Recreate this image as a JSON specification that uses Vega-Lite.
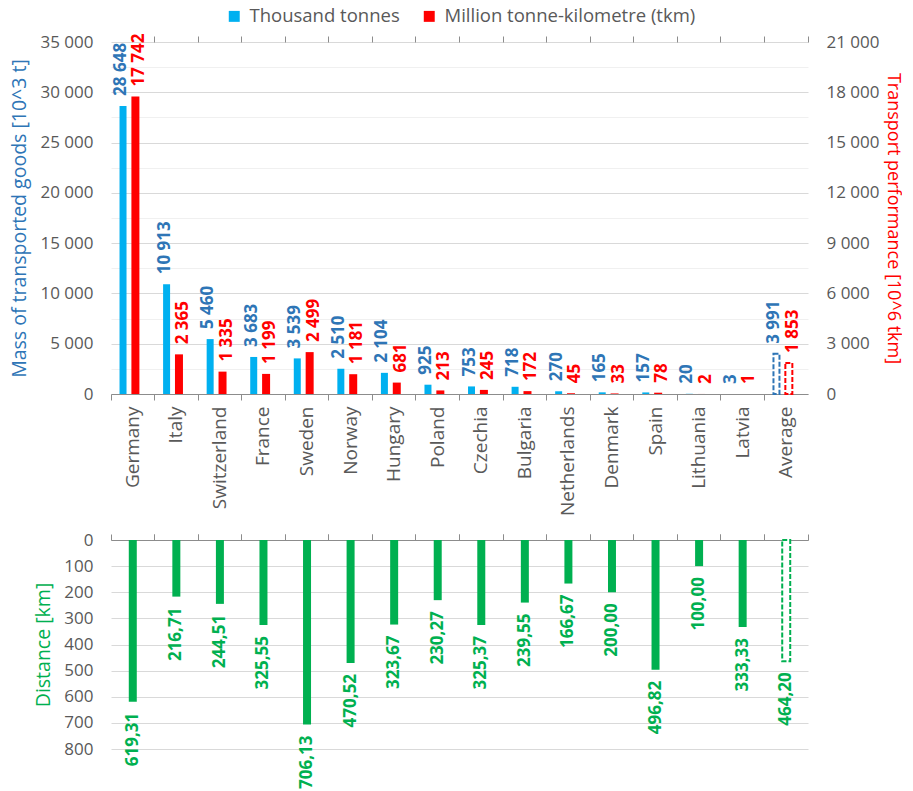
{
  "$schema": "https://vega.github.io/schema/vega-lite/v6.json",
  "background": "white",
  "padding": {"left": 9, "top": 7, "right": 0, "bottom": 0},
  "config": {
    "font": "Open Sans",
    "view": {"stroke": null},
    "locale": {"number": {"decimal": ",", "thousands": " ", "grouping": [3], "currency": ["", ""]}},
    "axis": {"labelColor": "#595959", "labelFontSize": 17, "titleFontSize": 19.5, "titleFontWeight": "normal", "domainColor": "#8c8c8c", "tickColor": "#8c8c8c", "gridColor": "#d9d9d9"}
  },
  "datasets": {
    "goods": [
      {"country": "Germany", "series": "Thousand tonnes", "value": 28648},
      {"country": "Italy", "series": "Thousand tonnes", "value": 10913},
      {"country": "Switzerland", "series": "Thousand tonnes", "value": 5460},
      {"country": "France", "series": "Thousand tonnes", "value": 3683},
      {"country": "Sweden", "series": "Thousand tonnes", "value": 3539},
      {"country": "Norway", "series": "Thousand tonnes", "value": 2510},
      {"country": "Hungary", "series": "Thousand tonnes", "value": 2104},
      {"country": "Poland", "series": "Thousand tonnes", "value": 925},
      {"country": "Czechia", "series": "Thousand tonnes", "value": 753},
      {"country": "Bulgaria", "series": "Thousand tonnes", "value": 718},
      {"country": "Netherlands", "series": "Thousand tonnes", "value": 270},
      {"country": "Denmark", "series": "Thousand tonnes", "value": 165},
      {"country": "Spain", "series": "Thousand tonnes", "value": 157},
      {"country": "Lithuania", "series": "Thousand tonnes", "value": 20},
      {"country": "Latvia", "series": "Thousand tonnes", "value": 3},
      {"country": "Average", "series": "Thousand tonnes", "value": 3991},
      {"country": "Germany", "series": "Million tonne-kilometre (tkm)", "value": 17742},
      {"country": "Italy", "series": "Million tonne-kilometre (tkm)", "value": 2365},
      {"country": "Switzerland", "series": "Million tonne-kilometre (tkm)", "value": 1335},
      {"country": "France", "series": "Million tonne-kilometre (tkm)", "value": 1199},
      {"country": "Sweden", "series": "Million tonne-kilometre (tkm)", "value": 2499},
      {"country": "Norway", "series": "Million tonne-kilometre (tkm)", "value": 1181},
      {"country": "Hungary", "series": "Million tonne-kilometre (tkm)", "value": 681},
      {"country": "Poland", "series": "Million tonne-kilometre (tkm)", "value": 213},
      {"country": "Czechia", "series": "Million tonne-kilometre (tkm)", "value": 245},
      {"country": "Bulgaria", "series": "Million tonne-kilometre (tkm)", "value": 172},
      {"country": "Netherlands", "series": "Million tonne-kilometre (tkm)", "value": 45},
      {"country": "Denmark", "series": "Million tonne-kilometre (tkm)", "value": 33},
      {"country": "Spain", "series": "Million tonne-kilometre (tkm)", "value": 78},
      {"country": "Lithuania", "series": "Million tonne-kilometre (tkm)", "value": 2},
      {"country": "Latvia", "series": "Million tonne-kilometre (tkm)", "value": 1},
      {"country": "Average", "series": "Million tonne-kilometre (tkm)", "value": 1853}
    ],
    "distance": [
      {"country": "Germany", "km": 619.31},
      {"country": "Italy", "km": 216.71},
      {"country": "Switzerland", "km": 244.51},
      {"country": "France", "km": 325.55},
      {"country": "Sweden", "km": 706.13},
      {"country": "Norway", "km": 470.52},
      {"country": "Hungary", "km": 323.67},
      {"country": "Poland", "km": 230.27},
      {"country": "Czechia", "km": 325.37},
      {"country": "Bulgaria", "km": 239.55},
      {"country": "Netherlands", "km": 166.67},
      {"country": "Denmark", "km": 200.00},
      {"country": "Spain", "km": 496.82},
      {"country": "Lithuania", "km": 100.00},
      {"country": "Latvia", "km": 333.33},
      {"country": "Average", "km": 464.20}
    ]
  },
  "vconcat": [
    {
      "width": 697,
      "height": 352,
      "data": {"name": "goods"},
      "layer": [
        {
          "transform": [{"filter": "datum.series === 'Thousand tonnes'"}],
          "encoding": {
            "x": {"field": "country", "type": "nominal", "sort": null, "scale": {"paddingInner": 0, "paddingOuter": 0}},
            "xOffset": {"field": "series", "type": "nominal", "scale": {"domain": ["Thousand tonnes", "Million tonne-kilometre (tkm)"], "paddingInner": 0.4, "paddingOuter": 0.96, "align": 0.35}},
            "y": {"field": "value", "type": "quantitative", "scale": {"domain": [0, 35000], "nice": false},
              "axis": {"orient": "left", "title": "Mass of transported goods [10^3 t]", "titleColor": "#2E75B6", "titlePadding": 10,
                "values": [0, 2500, 5000, 7500, 10000, 12500, 15000, 17500, 20000, 22500, 25000, 27500, 30000, 32500, 35000],
                "labelExpr": "datum.value % 5000 === 0 ? datum.label : ''", "format": ",d",
                "ticks": false, "tickSize": 0, "labelPadding": 18, "domain": false, "grid": true,
                "gridColor": {"condition": {"test": "datum.value % 5000 === 0", "value": "#d9d9d9"}, "value": "#f0f0f0"}}}
          },
          "resolve": {"axis": {"x": "independent"}},
          "layer": [
            {
              "transform": [{"filter": "datum.country !== 'Average'"}],
              "mark": {"type": "bar", "width": 7},
              "encoding": {
                "x": {"field": "country", "type": "nominal", "sort": null, "axis": {"title": null, "labels": false, "bandPosition": 0, "tickSize": 6, "domain": true, "grid": false}},
                "color": {"field": "series", "type": "nominal", "scale": {"domain": ["Thousand tonnes", "Million tonne-kilometre (tkm)"], "range": ["#00B0F0", "#FF0000"]},
                  "legend": {"title": null, "orient": "none", "legendX": 114, "legendY": -35, "direction": "horizontal", "symbolType": "square", "symbolSize": 120, "symbolStrokeWidth": 0, "labelFontSize": 18.5, "labelColor": "#595959", "labelLimit": 400, "columnPadding": 20, "labelOffset": 6}}
              }
            },
            {
              "transform": [{"filter": "datum.country === 'Average'"}],
              "mark": {"type": "bar", "width": 6, "fill": "white", "stroke": "#2E75B6", "strokeWidth": 2, "strokeDash": [5, 2]},
              "encoding": {
                "x": {"field": "country", "type": "nominal", "sort": null, "axis": {"title": null, "labels": false, "bandPosition": 1, "tickSize": 6, "domain": false, "grid": false}}
              }
            },
            {
              "mark": {"type": "text", "angle": 270, "align": "left", "baseline": "middle", "dx": 10, "dy": -2, "fontWeight": "bold", "fontSize": 17, "color": "#2E75B6"},
              "encoding": {
                "x": {"field": "country", "type": "nominal", "sort": null, "axis": null},
                "text": {"field": "value", "type": "quantitative", "format": ",d"}
              }
            }
          ]
        },
        {
          "transform": [{"filter": "datum.series !== 'Thousand tonnes'"}],
          "encoding": {
            "x": {"field": "country", "type": "nominal", "sort": null, "scale": {"paddingInner": 0, "paddingOuter": 0},
              "axis": {"title": null, "labelAngle": 270, "ticks": false, "domain": false, "labelPadding": 12, "labelFontSize": 19, "grid": false}},
            "xOffset": {"field": "series", "type": "nominal", "scale": {"domain": ["Thousand tonnes", "Million tonne-kilometre (tkm)"], "paddingInner": 0.4, "paddingOuter": 0.96, "align": 0.35}},
            "y": {"field": "value", "type": "quantitative", "scale": {"domain": [0, 21000], "nice": false},
              "axis": {"orient": "right", "title": "Transport performance [10^6 tkm]", "titleColor": "#FF0000", "titlePadding": 4, "titleFontSize": 18,
                "values": [0, 3000, 6000, 9000, 12000, 15000, 18000, 21000], "format": ",d",
                "ticks": false, "tickSize": 0, "labelPadding": 18, "domain": false, "grid": false}}
          },
          "layer": [
            {
              "transform": [{"filter": "datum.country !== 'Average'"}],
              "mark": {"type": "bar", "width": 8},
              "encoding": {
                "color": {"field": "series", "type": "nominal", "scale": {"domain": ["Thousand tonnes", "Million tonne-kilometre (tkm)"], "range": ["#00B0F0", "#FF0000"]}}
              }
            },
            {
              "transform": [{"filter": "datum.country === 'Average'"}],
              "mark": {"type": "bar", "width": 7, "fill": "white", "stroke": "#FF0000", "strokeWidth": 2, "strokeDash": [5, 2]}
            },
            {
              "mark": {"type": "text", "angle": 270, "align": "left", "baseline": "middle", "dx": 10, "dy": 4, "fontWeight": "bold", "fontSize": 17, "color": "#FF0000"},
              "encoding": {
                "text": {"field": "value", "type": "quantitative", "format": ",d"}
              }
            }
          ]
        }
      ],
      "resolve": {"scale": {"y": "independent"}, "axis": {"x": "independent"}}
    },
    {
      "width": 697,
      "height": 209,
      "data": {"name": "distance"},
      "encoding": {
        "y": {"field": "km", "type": "quantitative", "scale": {"domain": [0, 800], "reverse": true, "nice": false},
          "axis": {"title": "Distance [km]", "titleColor": "#00B050", "titlePadding": 10, "values": [0, 100, 200, 300, 400, 500, 600, 700, 800], "format": "d",
            "ticks": false, "tickSize": 0, "labelPadding": 18, "domain": false, "grid": true, "gridColor": "#d9d9d9"}}
      },
      "resolve": {"axis": {"x": "independent"}},
      "layer": [
        {
          "transform": [{"filter": "datum.country !== 'Average'"}],
          "mark": {"type": "bar", "width": 8, "color": "#00B050"},
          "encoding": {
            "x": {"field": "country", "type": "nominal", "sort": null, "scale": {"paddingInner": 0, "paddingOuter": 0},
              "axis": {"orient": "top", "title": null, "labels": false, "bandPosition": 0, "tickSize": 6, "domain": true, "grid": false}}
          }
        },
        {
          "transform": [{"filter": "datum.country === 'Average'"}],
          "mark": {"type": "bar", "width": 8, "fill": "white", "stroke": "#00B050", "strokeWidth": 2, "strokeDash": [5, 2]},
          "encoding": {
            "x": {"field": "country", "type": "nominal", "sort": null,
              "axis": {"orient": "top", "title": null, "labels": false, "bandPosition": 1, "tickSize": 6, "domain": false, "grid": false}}
          }
        },
        {
          "mark": {"type": "text", "angle": 270, "align": "right", "baseline": "middle", "dx": -11, "fontWeight": "bold", "fontSize": 17, "color": "#00B050"},
          "encoding": {
            "x": {"field": "country", "type": "nominal", "sort": null, "axis": null},
            "text": {"field": "km", "type": "quantitative", "format": ",.2f"}
          }
        }
      ]
    }
  ],
  "spacing": 15
}
